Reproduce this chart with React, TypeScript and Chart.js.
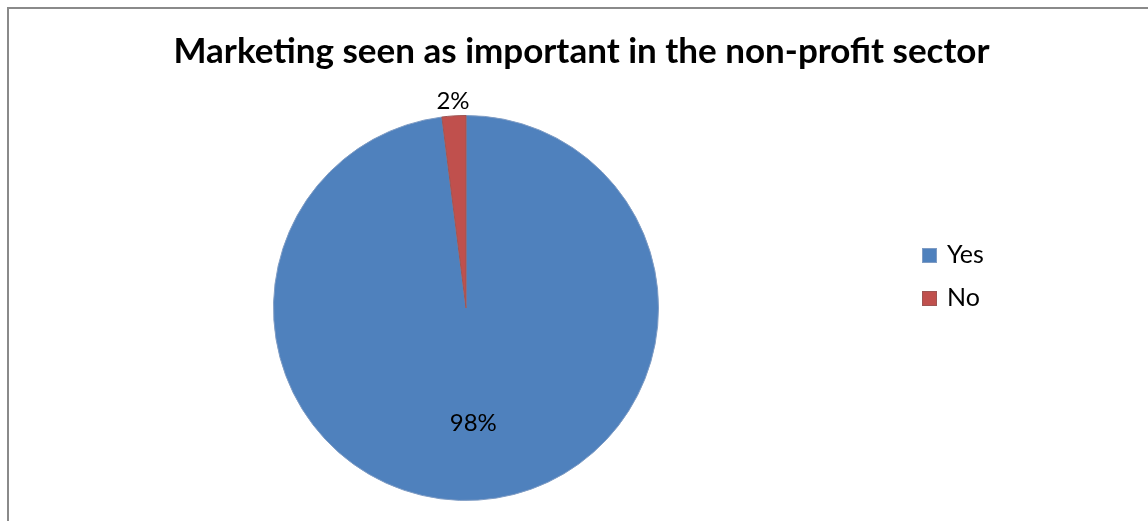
import React, { useEffect, useRef } from "react";
import { Chart, registerables, layouts } from "chart.js";

Chart.register(...registerables);

const categories = ["Yes", "No"];
const values = [98, 2];
const sliceColors = ["#4F81BD", "#C0504D"];
const sliceBorders = ["#7f9cc4", "#9e5553"];
const titleText = "Marketing seen as important in the non-profit sector";

const FONT = "Lato, 'Open Sans', sans-serif";

const sideLegendPlugin = {
  id: "sideLegend",
  beforeInit(chart: any) {
    const box: any = {
      position: "right",
      weight: 0,
      fullSize: false,
      options: {},
      top: 0,
      left: 0,
      right: 0,
      bottom: 0,
      width: 0,
      height: 0,
      isHorizontal() {
        return false;
      },
      update(maxWidth: number, maxHeight: number) {
        this.width = 231;
        this.height = maxHeight;
      },
      draw() {
        const ctx = chart.ctx;
        const labels = chart.data.labels as string[];
        const ds = chart.data.datasets[0] as any;
        ctx.save();
        ctx.font = `25px ${FONT}`;
        ctx.textBaseline = "middle";
        ctx.textAlign = "left";
        labels.forEach((lab, i) => {
          const cy = this.top + 140 + i * 43;
          const sx = this.left + 5;
          ctx.fillStyle = ds.backgroundColor[i];
          ctx.fillRect(sx, cy - 7, 15, 15);
          ctx.strokeStyle = ds.borderColor[i];
          ctx.lineWidth = 1;
          ctx.strokeRect(sx + 0.5, cy - 6.5, 14, 14);
          ctx.fillStyle = "#000";
          ctx.fillText(lab, sx + 25, cy);
        });
        ctx.restore();
      },
    };
    layouts.addBox(chart, box);
  },
};

const pctLabelPlugin = {
  id: "pctLabels",
  afterDatasetsDraw(chart: any) {
    const ctx = chart.ctx;
    const meta = chart.getDatasetMeta(0);
    const data = chart.data.datasets[0].data as number[];
    const total = data.reduce((a, b) => a + b, 0);
    ctx.save();
    ctx.font = `24px ${FONT}`;
    ctx.fillStyle = "#000";
    ctx.textAlign = "center";
    ctx.textBaseline = "middle";
    meta.data.forEach((arc: any, i: number) => {
      const p = arc.getProps(["x", "y", "startAngle", "endAngle", "outerRadius"], true);
      const mid = (p.startAngle + p.endAngle) / 2;
      const share = data[i] / total;
      const d = share > 0.1 ? p.outerRadius * 0.6 : p.outerRadius + 15;
      const tx = p.x + Math.cos(mid) * d;
      const ty = p.y + Math.sin(mid) * d;
      ctx.fillText(`${Math.round(share * 100)}%`, tx, ty);
    });
    ctx.restore();
  },
};

export default function App() {
  const ref = useRef<HTMLCanvasElement>(null);
  useEffect(() => {
    if (!ref.current) return;
    const chart = new Chart(ref.current, {
      type: "pie",
      data: {
        labels: categories,
        datasets: [
          {
            data: values,
            backgroundColor: sliceColors,
            borderColor: sliceBorders,
            borderWidth: 1,
          },
        ],
      },
      options: {
        responsive: false,
        animation: false,
        devicePixelRatio: 1,
        layout: { padding: { left: 15, right: 0, top: 0, bottom: 20 } },
        plugins: {
          legend: { display: false },
          tooltip: { enabled: false },
          title: {
            display: true,
            text: titleText,
            color: "#000",
            font: { family: FONT, size: 35, weight: "bold", lineHeight: 1.2 },
            padding: { top: 30.5, bottom: 42.5 },
          },
        },
      },
      plugins: [sideLegendPlugin, pctLabelPlugin],
    });
    return () => chart.destroy();
  }, []);
  return (
    <div
      style={{
        position: "fixed",
        left: 0,
        top: 0,
        width: 1148,
        height: 521,
        background: "#fff",
        overflow: "hidden",
      }}
    >
      <canvas ref={ref} width={1148} height={521} style={{ position: "absolute", left: 0, top: 0 }} />
      <div
        style={{
          position: "absolute",
          left: 7,
          top: 7,
          width: 1200,
          height: 600,
          borderLeft: "2px solid #8a8a8a",
          borderTop: "2px solid #8a8a8a",
          pointerEvents: "none",
        }}
      />
    </div>
  );
}
